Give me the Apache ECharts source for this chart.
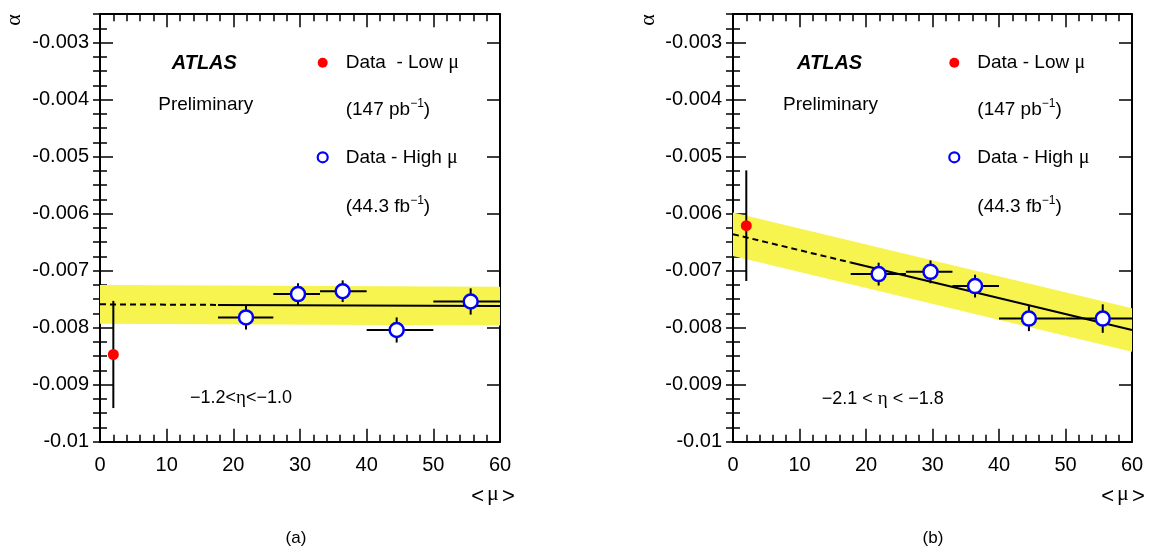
<!DOCTYPE html>
<html>
<head>
<meta charset="utf-8">
<script src="https://cdn.jsdelivr.net/npm/echarts@6/dist/echarts.min.js"></script>
<style>html,body{margin:0;padding:0;background:#fff}#c{width:1152px;height:549px}</style>
</head>
<body>
<div id="c"></div>
<script>
// ---------- data ----------
const xTicks = [0, 10, 20, 30, 40, 50, 60];
const yTickLabels = ['-0.01', '-0.009', '-0.008', '-0.007', '-0.006', '-0.005', '-0.004', '-0.003'];

// Low-mu point (both panels)
const muLow = [2];
const alphaLowA = [-0.00847];
const errLowA = [0.00094];
const alphaLowB = [-0.00621];
const errLowB = [0.00097];

// High-mu points
const muHigh = [21.9, 29.7, 36.4, 44.5, 55.6];
const muBinLo = [17.7, 26, 33, 40, 50];
const muBinHi = [26, 33, 40, 50, 60];
const alphaHighA = [-0.00782, -0.00741, -0.00736, -0.00804, -0.00754];
const errHighA = [0.00021, 0.00019, 0.00019, 0.00022, 0.00023];
const alphaHighB = [-0.00706, -0.00702, -0.00727, -0.00784, -0.00784];
const errHighB = [0.00020, 0.00020, 0.00020, 0.00022, 0.00025];

// Fits: dashed from 0 to 17.7, solid from 17.7 to 60
const fitX = [0, 17.7, 60];
const fitA = [-0.00759, -0.00760, -0.00762];
const fitB = [-0.00636, -0.006856, -0.00804];
const bandHalfA = 0.00034;
const bandHalfB = 0.00038;

// ---------- helpers ----------
const SANS = "'Liberation Sans', Helvetica, Arial, sans-serif";
const SERIF = "'Liberation Serif', 'DejaVu Serif', serif";
const BAND = '#f7f34f';

function yLabel(v) {
  const r = Math.round(v * 1000);
  if (Math.abs(v * 1000 - r) > 1e-6) return '';
  const s = String(parseFloat((r / 1000).toFixed(3)));
  return yTickLabels.indexOf(s) >= 0 ? s : '';
}

function xAxes(gi) {
  const base = {
    gridIndex: gi, type: 'value', min: 0, max: 60, interval: 10,
    axisLine: { show: true, onZero: false, lineStyle: { color: '#000', width: 2 } },
    axisTick: { show: true, inside: true, length: 13, lineStyle: { color: '#000', width: 1.5 } },
    minorTick: { show: true, splitNumber: 5, length: 7, lineStyle: { color: '#000', width: 1.5 } },
    splitLine: { show: false }, minorSplitLine: { show: false }
  };
  return [
    Object.assign({}, base, { position: 'bottom',
      axisLabel: { show: true, margin: 14, color: '#000', fontSize: 20, fontFamily: SANS,
        formatter: v => xTicks.indexOf(v) >= 0 ? String(v) : '' } }),
    Object.assign({}, base, { position: 'top', axisLabel: { show: false } })
  ];
}

function yAxes(gi) {
  const main = {
    gridIndex: gi, type: 'value', min: -0.01, max: -0.0025, interval: 0.001,
    axisLine: { show: true, onZero: false, lineStyle: { color: '#000', width: 2 } },
    axisTick: { show: true, inside: true, length: 13, lineStyle: { color: '#000', width: 1.5 } },
    splitLine: { show: false }
  };
  const minor = {
    gridIndex: gi, type: 'value', min: -0.01, max: -0.0025, interval: 0.00025,
    axisLine: { show: false },
    axisTick: { show: true, inside: true, length: 7, lineStyle: { color: '#000', width: 1.5 } },
    axisLabel: { show: false }, splitLine: { show: false }
  };
  return [
    Object.assign({}, main, { position: 'left',
      axisLabel: { show: true, margin: 11, color: '#000', fontSize: 20, fontFamily: SANS, formatter: yLabel } }),
    Object.assign({}, main, { position: 'right', axisLabel: { show: false } }),
    Object.assign({}, minor, { position: 'left' }),
    Object.assign({}, minor, { position: 'right' })
  ];
}

function errRender(params, api) {
  const x = api.value(0), y = api.value(1);
  const xl = api.value(2), xh = api.value(3), yl = api.value(4), yh = api.value(5);
  const children = [];
  const a = api.coord([x, yh]), b = api.coord([x, yl]);
  children.push({ type: 'line', shape: { x1: a[0], y1: a[1], x2: b[0], y2: b[1] },
    style: { stroke: '#000', lineWidth: 2 } });
  if (xh > xl) {
    const c = api.coord([xl, y]), d = api.coord([xh, y]);
    children.push({ type: 'line', shape: { x1: c[0], y1: c[1], x2: d[0], y2: d[1] },
      style: { stroke: '#000', lineWidth: 2 } });
  }
  return { type: 'group', children };
}

function bandRender(fit, half) {
  return function (params, api) {
    if (params.dataIndex !== 0) return null;
    const up = fitX.map((x, i) => api.coord([x, fit[i] + half]));
    const lo = fitX.map((x, i) => api.coord([x, fit[i] - half])).reverse();
    return { type: 'polygon', shape: { points: up.concat(lo) },
      style: { fill: BAND, stroke: null } };
  };
}

function panelSeries(gi, alphaLow, errLow, alphaHigh, errHigh, fit, half) {
  const xi = gi * 2, yi = gi * 4;
  const errData = muLow.map((m, i) => [m, alphaLow[i], m, m, alphaLow[i] - errLow[i], alphaLow[i] + errLow[i]])
    .concat(muHigh.map((m, i) => [m, alphaHigh[i], muBinLo[i], muBinHi[i], alphaHigh[i] - errHigh[i], alphaHigh[i] + errHigh[i]]));
  return [
    { type: 'custom', xAxisIndex: xi, yAxisIndex: yi, z: 1, silent: true,
      renderItem: bandRender(fit, half),
      data: fitX.map((x, i) => [x, fit[i]]) },
    { type: 'line', xAxisIndex: xi, yAxisIndex: yi, z: 2, showSymbol: false, symbol: 'none',
      lineStyle: { color: '#000', width: 2, type: [6, 4] },
      data: [[fitX[0], fit[0]], [fitX[1], fit[1]]] },
    { type: 'line', xAxisIndex: xi, yAxisIndex: yi, z: 2, showSymbol: false, symbol: 'none',
      lineStyle: { color: '#000', width: 2 },
      data: [[fitX[1], fit[1]], [fitX[2], fit[2]]] },
    { type: 'custom', xAxisIndex: xi, yAxisIndex: yi, z: 3, renderItem: errRender,
      encode: { x: [0, 2, 3], y: [1, 4, 5] }, data: errData },
    { type: 'scatter', xAxisIndex: xi, yAxisIndex: yi, z: 4, symbol: 'circle', symbolSize: 11,
      itemStyle: { color: '#ff0000', opacity: 1 },
      data: muLow.map((m, i) => [m, alphaLow[i]]) },
    { type: 'scatter', xAxisIndex: xi, yAxisIndex: yi, z: 4, symbol: 'circle', symbolSize: 14,
      itemStyle: { color: '#ffffff', borderColor: '#0000ff', borderWidth: 2.5, opacity: 1 },
      data: muHigh.map((m, i) => [m, alphaHigh[i]]) }
  ];
}

function txt(x, y, text, opts) {
  return Object.assign({ type: 'text', x: x, y: y, silent: true,
    style: Object.assign({ text: text, fill: '#000', font: '19px ' + SANS,
      textAlign: 'left', textVerticalAlign: 'middle' }, opts || {}) });
}
function rich(x, y, text, size, align) {
  return { type: 'text', x: x, y: y, silent: true,
    style: { text: text, fill: '#000', fontFamily: SANS, fontSize: size,
      align: align || 'left', verticalAlign: 'middle',
      rich: {
        m: { fontFamily: SERIF, fontSize: size + 1, fill: '#000' },
        sup: { fontFamily: SANS, fontSize: 12, fill: '#000', verticalAlign: 'top', lineHeight: 12 },
        n: { fontFamily: SANS, fontSize: size, fill: '#000', lineHeight: 24 }
      } } };
}

function panelGraphics(o) {
  return [
    { type: 'text', x: o.atlasX, y: 63, silent: true,
      style: { text: 'ATLAS', fill: '#000', font: 'italic bold 20px ' + SANS, verticalAlign: 'middle' } },
    txt(o.prelX, 105, 'Preliminary'),
    { type: 'circle', shape: { cx: o.dotX, cy: 62.7, r: 5 }, style: { fill: '#ff0000' }, silent: true },
    rich(o.legX, 62.7, '{n|' + o.lowTxt + '}{m|μ}', 19),
    rich(o.legX, 110, '{n|(147 pb}{sup|−1}{n|)}', 19),
    { type: 'circle', shape: { cx: o.dotX, cy: 157.3, r: 5 }, style: { fill: '#fff', stroke: '#0000ff', lineWidth: 2.2 }, silent: true },
    rich(o.legX, 157.3, '{n|Data - High }{m|μ}', 19),
    rich(o.legX, 206.7, '{n|(44.3 fb}{sup|−1}{n|)}', 19),
    rich(o.etaX, o.etaY, o.etaTxt, 18),
    { type: 'text', x: o.muX, y: 497, silent: true,
      style: { text: '<{m|μ}>', fontFamily: SANS, fontSize: 22, fill: '#000', align: 'center', verticalAlign: 'middle',
        rich: { m: { fontFamily: SERIF, fontSize: 22, fill: '#000', padding: [0, 3, 6, 3] } } } },
    { type: 'text', x: o.alphaX, y: 20, rotation: Math.PI / 2, silent: true,
      style: { text: 'α', font: '22px ' + SERIF, fill: '#000', align: 'center', verticalAlign: 'middle' } },
    { type: 'text', x: o.capX, y: 538, silent: true,
      style: { text: o.cap, font: '17px ' + SANS, fill: '#000', align: 'center', verticalAlign: 'middle' } }
  ];
}

const chart = echarts.init(document.getElementById('c'), null, { renderer: 'canvas' });
chart.setOption({
  animation: false,
  backgroundColor: '#fff',
  grid: [
    { left: 100, top: 14.2, width: 400, height: 427.5 },
    { left: 733, top: 14.2, width: 399, height: 427.5 }
  ],
  xAxis: xAxes(0).concat(xAxes(1)),
  yAxis: yAxes(0).concat(yAxes(1)),
  series: panelSeries(0, alphaLowA, errLowA, alphaHighA, errHighA, fitA, bandHalfA)
    .concat(panelSeries(1, alphaLowB, errLowB, alphaHighB, errHighB, fitB, bandHalfB)),
  graphic: panelGraphics({ atlasX: 171.7, prelX: 158.3, dotX: 322.7, legX: 345.7, lowTxt: 'Data  - Low ',
      etaX: 190, etaY: 398, etaTxt: '{n|−1.2<}{m|η}{n|<−1.0}', muX: 493, alphaX: 14, capX: 296, cap: '(a)' })
    .concat(panelGraphics({ atlasX: 797, prelX: 783, dotX: 954.3, legX: 977.3, lowTxt: 'Data - Low ',
      etaX: 821.7, etaY: 399, etaTxt: '{n|−2.1 < }{m|η}{n| < −1.8}', muX: 1123, alphaX: 648, capX: 933, cap: '(b)' }))
});
</script>
</body>
</html>
